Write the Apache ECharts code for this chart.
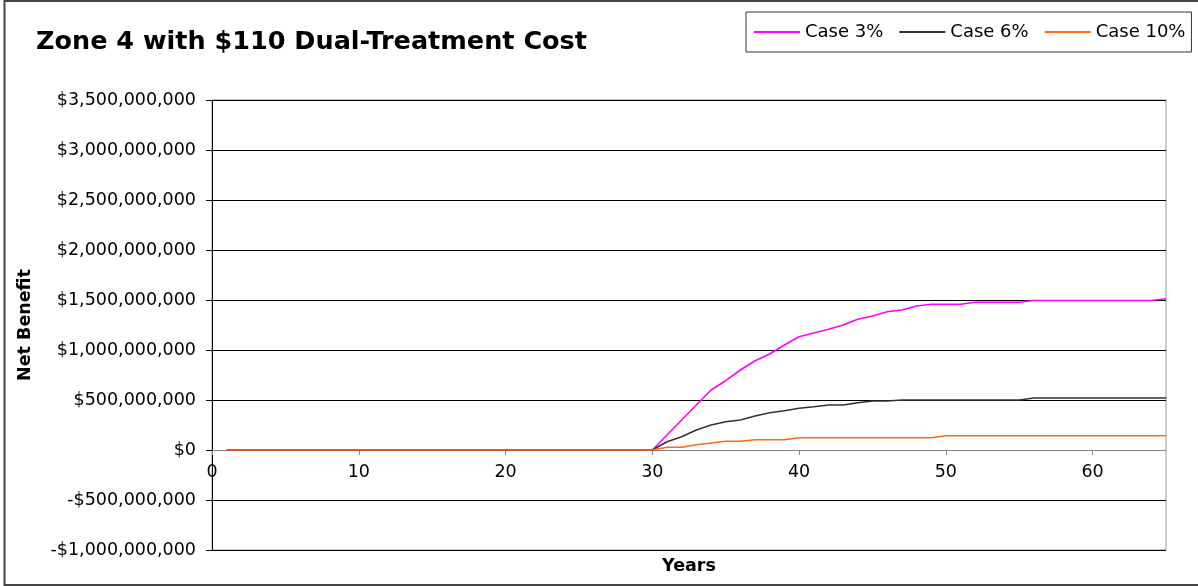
<!DOCTYPE html>
<html>
<head>
<meta charset="utf-8">
<script src="https://cdn.jsdelivr.net/npm/echarts@6/dist/echarts.min.js"></script>
<style>
  html, body { margin: 0; padding: 0; background: #fff; }
  #chart { width: 1198px; height: 586px; }
</style>
</head>
<body>
<div id="chart"></div>
<script>
// years on the x axis
const years = [1, 2, 3, 4, 5, 6, 7, 8, 9, 10, 11, 12, 13, 14, 15, 16, 17, 18, 19, 20,
    21, 22, 23, 24, 25, 26, 27, 28, 29, 30, 31, 32, 33, 34, 35, 36, 37, 38, 39, 40,
    41, 42, 43, 44, 45, 46, 47, 48, 49, 50, 51, 52, 53, 54, 55, 56, 57, 58, 59, 60,
    61, 62, 63, 64, 65];

// net benefit, millions of dollars
const case3 = [0, 0, 0, 0, 0, 0, 0, 0, 0, 0, 0, 0, 0, 0, 0, 0, 0, 0, 0, 0,
    0, 0, 0, 0, 0, 0, 0, 0, 0, 0, 150, 300, 450, 600, 693, 800, 893, 960, 1050, 1133,
    1170, 1207, 1250, 1307, 1340, 1383, 1400, 1440, 1457, 1457, 1457, 1477, 1477, 1477, 1477, 1495, 1495, 1495, 1495, 1495,
    1495, 1495, 1495, 1495, 1513];
const case6 = [0, 0, 0, 0, 0, 0, 0, 0, 0, 0, 0, 0, 0, 0, 0, 0, 0, 0, 0, 0,
    0, 0, 0, 0, 0, 0, 0, 0, 0, 0, 83, 133, 200, 250, 283, 300, 340, 373, 393, 417,
    433, 450, 450, 473, 490, 490, 500, 500, 500, 500, 500, 500, 500, 500, 500, 520, 520, 520, 520, 520,
    520, 520, 520, 520, 520];
const case10 = [0, 0, 0, 0, 0, 0, 0, 0, 0, 0, 0, 0, 0, 0, 0, 0, 0, 0, 0, 0,
    0, 0, 0, 0, 0, 0, 0, 0, 0, 0, 27, 27, 53, 70, 87, 87, 103, 103, 103, 123,
    123, 123, 123, 123, 123, 123, 123, 123, 123, 143, 143, 143, 143, 143, 143, 143, 143, 143, 143, 143,
    143, 143, 143, 143, 143];

const seriesNames = ['Case 3%', 'Case 6%', 'Case 10%'];
const seriesColors = ['#ff00ff', '#333333', '#ff6a10'];

const FONT = 'DejaVu Sans';

function to_points(vals) {
    return years.map(function (y, i) {
        return [y, vals[i] * 1e6];
    });
}

function money(v) {
    let s = Math.abs(v).toString().replace(/\B(?=(\d{3})+(?!\d))/g, ',');
    return (v < 0 ? '-$' : '$') + s;
}

let chart = echarts.init(document.getElementById('chart'), null, {renderer: 'canvas'});

let series = [case3, case6, case10].map(function (vals, i) {
    return {
        type: 'line',
        name: seriesNames[i],
        data: to_points(vals),
        symbol: 'none',
        lineStyle: {color: seriesColors[i], width: 1.6},
        itemStyle: {color: seriesColors[i]},
        animation: false
    };
});

chart.setOption({
    backgroundColor: '#fff',
    title: {
        text: 'Zone 4 with $110 Dual-Treatment Cost',
        left: 31, top: 24,
        textStyle: {fontFamily: FONT, fontWeight: 'bold', fontSize: 25.5, color: '#000'}
    },
    legend: {
        left: 746, top: 12,
        padding: [11, 6, 11, 7],
        itemWidth: 46, itemHeight: 2, itemGap: 15,
        borderColor: '#333', borderWidth: 1,
        textStyle: {fontFamily: FONT, fontSize: 18, color: '#000'},
        data: seriesNames
    },
    grid: {
        left: 212, right: 32, top: 100, bottom: 36,
        containLabel: false, outerBoundsMode: 'none',
        show: true, borderColor: '#999', borderWidth: 1
    },
    xAxis: {
        type: 'value', min: 0, max: 65, interval: 10,
        // axis sits on the $0 line: 100px above the plot bottom
        offset: -100,
        name: 'Years', nameLocation: 'middle', nameGap: 107,
        nameTextStyle: {fontFamily: FONT, fontWeight: 'bold', fontSize: 17.5, color: '#000'},
        axisLine: {onZero: false, lineStyle: {color: '#888', width: 1}},
        axisTick: {show: true, length: 5, lineStyle: {color: '#888'}},
        axisLabel: {showMaxLabel: false, margin: 13, fontFamily: FONT, fontSize: 17.5, color: '#000'},
        splitLine: {show: false}
    },
    yAxis: {
        type: 'value', min: -1e9, max: 3.5e9, interval: 5e8,
        name: 'Net Benefit', nameLocation: 'middle', nameGap: 178,
        nameTextStyle: {fontFamily: FONT, fontWeight: 'bold', fontSize: 17.5, color: '#000'},
        axisLine: {show: true, lineStyle: {color: '#000', width: 1}},
        axisTick: {show: true, length: 6, lineStyle: {color: '#000'}},
        axisLabel: {margin: 16, fontFamily: FONT, fontSize: 17.5, color: '#000', formatter: money},
        splitLine: {show: true, lineStyle: {color: '#000', width: 1}}
    },
    graphic: [{
        type: 'rect',
        shape: {x: 4.5, y: 1, width: 1200, height: 584},
        style: {fill: null, stroke: '#444', lineWidth: 2},
        silent: true, z: -1
    }],
    series: series
});
</script>
</body>
</html>
